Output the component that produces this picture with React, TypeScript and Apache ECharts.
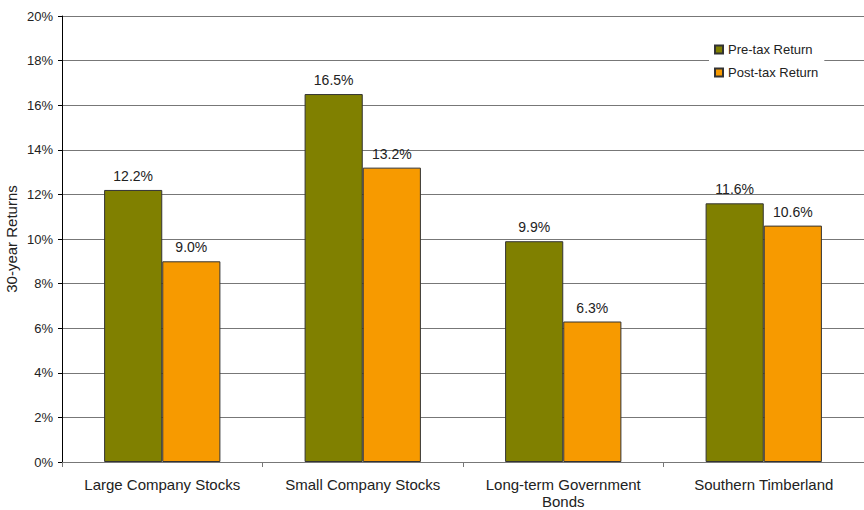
import React, { useEffect, useRef } from "react";
import * as echarts from "echarts";

const categories = [
  "Large Company Stocks",
  "Small Company Stocks",
  "Long-term Government\nBonds",
  "Southern Timberland",
];
const preTax = [12.2, 16.5, 9.9, 11.6];
const postTax = [9.0, 13.2, 6.3, 10.6];
const seriesNames = ["Pre-tax Return", "Post-tax Return"];
const yTitle = "30-year Returns";

const FONT = "'Liberation Sans', Arial, sans-serif";

export default function App() {
  const ref = useRef<HTMLDivElement>(null);
  useEffect(() => {
    const chart = echarts.init(ref.current!, null, { renderer: "svg" });
    const label = {
      show: true,
      position: "top" as const,
      distance: 7,
      color: "#222",
      fontFamily: FONT,
      fontSize: 14,
      formatter: (p: any) => p.value.toFixed(1) + "%",
    };
    chart.setOption({
      animation: false,
      backgroundColor: "#fff",
      textStyle: { fontFamily: FONT },
      grid: { left: 62, top: 16, width: 804, height: 446, containLabel: false },
      legend: {
        orient: "vertical",
        left: 709,
        top: 37,
        itemWidth: 8,
        itemHeight: 8,
        itemGap: 10,
        padding: [6, 6, 6, 5],
        backgroundColor: "#fff",
        icon: "rect",
        textStyle: { fontFamily: FONT, fontSize: 13, lineHeight: 13, color: "#222" },
        data: seriesNames,
      },
      graphic: [
        {
          type: "text",
          x: 11,
          y: 239,
          rotation: Math.PI / 2,
          style: {
            text: yTitle,
            fill: "#222",
            font: "15px " + FONT,
            textAlign: "center",
            textVerticalAlign: "middle",
          },
        },
      ],
      xAxis: {
        type: "category",
        data: categories,
        axisLine: { lineStyle: { color: "#777", width: 1 } },
        axisTick: { show: true, length: 5, lineStyle: { color: "#777" } },
        axisLabel: {
          color: "#222",
          fontFamily: FONT,
          fontSize: 15,
          margin: 14,
          lineHeight: 17,
          interval: 0,
        },
      },
      yAxis: {
        type: "value",
        min: 0,
        max: 20,
        interval: 2,
        axisLine: { show: true, lineStyle: { color: "#000", width: 1 } },
        axisTick: { show: true, length: 4, lineStyle: { color: "#000" } },
        axisLabel: {
          color: "#222",
          fontFamily: FONT,
          fontSize: 13,
          margin: 9,
          formatter: (v: number) => v + "%",
        },
        splitLine: { lineStyle: { color: "#777", width: 1 } },
      },
      series: [
        {
          name: seriesNames[0],
          type: "bar",
          data: preTax,
          barGap: "0%",
          barCategoryGap: "42%",
          itemStyle: { color: "#808000", borderColor: "#333", borderWidth: 1 },
          label,
        },
        {
          name: seriesNames[1],
          type: "bar",
          data: postTax,
          barGap: "0%",
          barCategoryGap: "42%",
          itemStyle: { color: "#F79A00", borderColor: "#333", borderWidth: 1 },
          label,
        },
      ],
    });
    return () => chart.dispose();
  }, []);
  return (
    <div
      ref={ref}
      style={{ position: "absolute", left: 0, top: 0, width: 864, height: 510 }}
    />
  );
}
